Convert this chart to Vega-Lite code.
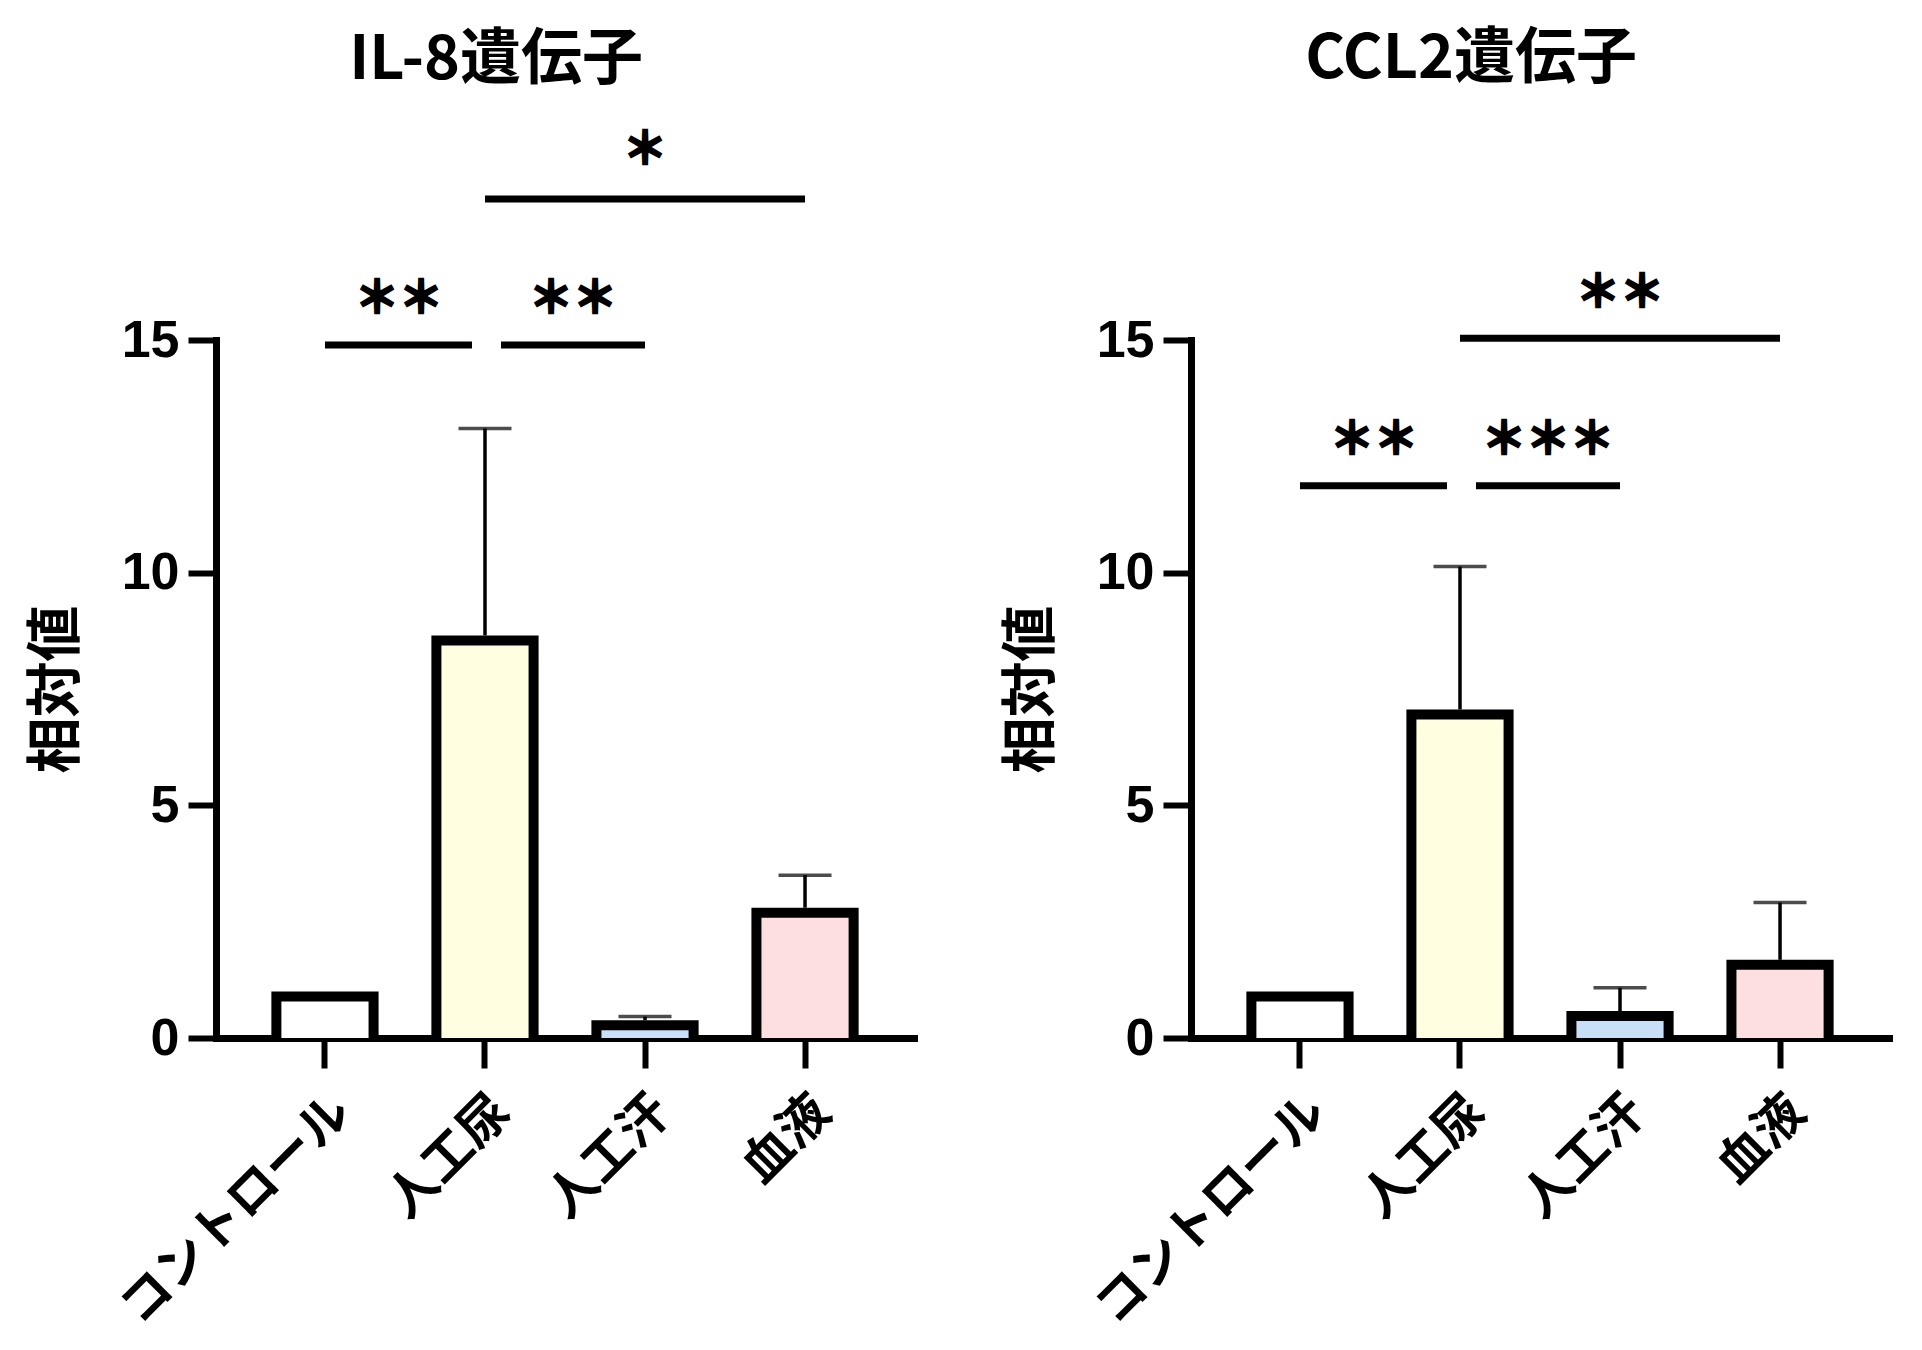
{
  "$schema": "https://vega.github.io/schema/vega-lite/v6.json",
  "padding": {"left": 28, "top": 29, "right": 5, "bottom": 5},
  "background": "white",
  "spacing": 89,
  "hconcat": [
    {
      "title": {"text": "IL-8遺伝子", "dx": 25, "offset": 37},
      "width": 698,
      "height": 698,
      "data": {"values": [
        {"group": "コントロール", "value": 1.0, "upper": null},
        {"group": "人工尿", "value": 8.65, "upper": 13.1},
        {"group": "人工汗", "value": 0.38, "upper": 0.46},
        {"group": "血液", "value": 2.8, "upper": 3.5}
      ]},
      "encoding": {
        "x": {"field": "group", "type": "nominal", "sort": ["コントロール", "人工尿", "人工汗", "血液"],
              "scale": {"paddingInner": 0.33, "paddingOuter": 0.346}}
      },
      "layer": [
        {"mark": {"type": "bar", "color": "black", "width": {"band": 1}},
         "encoding": {"y": {"field": "value", "type": "quantitative", "title": "相対値",
                            "scale": {"domain": [0, 15], "nice": false}, "axis": {"values": [0, 5, 10, 15]}}}},
        {"mark": {"type": "bar", "yOffset": 10, "width": {"band": 0.813}},
         "encoding": {"y": {"field": "value", "type": "quantitative", "scale": {"domain": [0, 15], "nice": false}},
                      "y2": {"datum": 0},
                      "color": {"field": "group", "type": "nominal", "legend": null,
                                "scale": {"domain": ["コントロール", "人工尿", "人工汗", "血液"],
                                          "range": ["#ffffff", "#fffee0", "#c9def7", "#fddfe0"]}}}},
        {"transform": [{"filter": "datum.upper != null"}],
         "mark": {"type": "rule", "color": "black", "strokeWidth": 3.5},
         "encoding": {"y": {"field": "value", "type": "quantitative", "scale": {"domain": [0, 15], "nice": false}}, "y2": {"field": "upper"}}},
        {"transform": [{"filter": "datum.upper != null"}],
         "mark": {"type": "tick", "color": "black", "thickness": 3.5, "size": 53},
         "encoding": {"y": {"field": "upper", "type": "quantitative", "scale": {"domain": [0, 15], "nice": false}}}},
        {"data": {"values": [{"from": "コントロール", "to": "人工尿", "line": 14.89, "mark": 15.86, "label": "＊＊"}]},
         "layer": [
           {"mark": {"type": "rule", "color": "black", "strokeWidth": 7, "x2Offset": -13},
            "encoding": {"x": {"field": "from", "type": "nominal"}, "x2": {"field": "to"},
                         "y": {"field": "line", "type": "quantitative", "scale": {"domain": [0, 15], "nice": false}}}},
           {"mark": {"type": "text", "dx": 74, "fontSize": 44, "font": "Noto Sans CJK JP", "fontWeight": "bold", "baseline": "middle", "stroke": "black", "strokeWidth": 2.5},
            "encoding": {"x": {"field": "from", "type": "nominal"}, "y": {"field": "mark", "type": "quantitative", "scale": {"domain": [0, 15], "nice": false}},
                         "text": {"field": "label"}}}
         ]},
        {"data": {"values": [{"from": "人工尿", "to": "人工汗", "line": 14.89, "mark": 15.86, "label": "＊＊"}]},
         "layer": [
           {"mark": {"type": "rule", "color": "black", "strokeWidth": 7, "xOffset": 16},
            "encoding": {"x": {"field": "from", "type": "nominal"}, "x2": {"field": "to"},
                         "y": {"field": "line", "type": "quantitative", "scale": {"domain": [0, 15], "nice": false}}}},
           {"mark": {"type": "text", "dx": -72, "fontSize": 44, "font": "Noto Sans CJK JP", "fontWeight": "bold", "baseline": "middle", "stroke": "black", "strokeWidth": 2.5},
            "encoding": {"x": {"field": "to", "type": "nominal"}, "y": {"field": "mark", "type": "quantitative", "scale": {"domain": [0, 15], "nice": false}},
                         "text": {"field": "label"}}}
         ]},
        {"data": {"values": [{"from": "人工尿", "to": "血液", "at": "人工汗", "line": 18.03, "mark": 19.06, "label": "＊"}]},
         "layer": [
           {"mark": {"type": "rule", "color": "black", "strokeWidth": 7},
            "encoding": {"x": {"field": "from", "type": "nominal"}, "x2": {"field": "to"},
                         "y": {"field": "line", "type": "quantitative", "scale": {"domain": [0, 15], "nice": false}}}},
           {"mark": {"type": "text", "fontSize": 44, "font": "Noto Sans CJK JP", "fontWeight": "bold", "baseline": "middle", "stroke": "black", "strokeWidth": 2.5},
            "encoding": {"x": {"field": "at", "type": "nominal"}, "y": {"field": "mark", "type": "quantitative", "scale": {"domain": [0, 15], "nice": false}},
                         "text": {"field": "label"}}}
         ]}
      ]
    },
    {
      "title": {"text": "CCL2遺伝子", "dx": 25, "offset": 181},
      "width": 698,
      "height": 698,
      "data": {"values": [
        {"group": "コントロール", "value": 1.0, "upper": null},
        {"group": "人工尿", "value": 7.06, "upper": 10.13},
        {"group": "人工汗", "value": 0.58, "upper": 1.08},
        {"group": "血液", "value": 1.68, "upper": 2.91}
      ]},
      "encoding": {
        "x": {"field": "group", "type": "nominal", "sort": ["コントロール", "人工尿", "人工汗", "血液"],
              "scale": {"paddingInner": 0.33, "paddingOuter": 0.346}}
      },
      "layer": [
        {"mark": {"type": "bar", "color": "black", "width": {"band": 1}},
         "encoding": {"y": {"field": "value", "type": "quantitative", "title": "相対値",
                            "scale": {"domain": [0, 15], "nice": false}, "axis": {"values": [0, 5, 10, 15]}}}},
        {"mark": {"type": "bar", "yOffset": 10, "width": {"band": 0.813}},
         "encoding": {"y": {"field": "value", "type": "quantitative", "scale": {"domain": [0, 15], "nice": false}},
                      "y2": {"datum": 0},
                      "color": {"field": "group", "type": "nominal", "legend": null,
                                "scale": {"domain": ["コントロール", "人工尿", "人工汗", "血液"],
                                          "range": ["#ffffff", "#fffee0", "#c9def7", "#fddfe0"]}}}},
        {"transform": [{"filter": "datum.upper != null"}],
         "mark": {"type": "rule", "color": "black", "strokeWidth": 3.5},
         "encoding": {"y": {"field": "value", "type": "quantitative", "scale": {"domain": [0, 15], "nice": false}}, "y2": {"field": "upper"}}},
        {"transform": [{"filter": "datum.upper != null"}],
         "mark": {"type": "tick", "color": "black", "thickness": 3.5, "size": 53},
         "encoding": {"y": {"field": "upper", "type": "quantitative", "scale": {"domain": [0, 15], "nice": false}}}},
        {"data": {"values": [{"from": "コントロール", "to": "人工尿", "line": 11.87, "mark": 12.84, "label": "＊＊"}]},
         "layer": [
           {"mark": {"type": "rule", "color": "black", "strokeWidth": 7, "x2Offset": -13},
            "encoding": {"x": {"field": "from", "type": "nominal"}, "x2": {"field": "to"},
                         "y": {"field": "line", "type": "quantitative", "scale": {"domain": [0, 15], "nice": false}}}},
           {"mark": {"type": "text", "dx": 74, "fontSize": 44, "font": "Noto Sans CJK JP", "fontWeight": "bold", "baseline": "middle", "stroke": "black", "strokeWidth": 2.5},
            "encoding": {"x": {"field": "from", "type": "nominal"}, "y": {"field": "mark", "type": "quantitative", "scale": {"domain": [0, 15], "nice": false}},
                         "text": {"field": "label"}}}
         ]},
        {"data": {"values": [{"from": "人工尿", "to": "人工汗", "line": 11.87, "mark": 12.84, "label": "＊＊＊"}]},
         "layer": [
           {"mark": {"type": "rule", "color": "black", "strokeWidth": 7, "xOffset": 16},
            "encoding": {"x": {"field": "from", "type": "nominal"}, "x2": {"field": "to"},
                         "y": {"field": "line", "type": "quantitative", "scale": {"domain": [0, 15], "nice": false}}}},
           {"mark": {"type": "text", "dx": -72, "fontSize": 44, "font": "Noto Sans CJK JP", "fontWeight": "bold", "baseline": "middle", "stroke": "black", "strokeWidth": 2.5},
            "encoding": {"x": {"field": "to", "type": "nominal"}, "y": {"field": "mark", "type": "quantitative", "scale": {"domain": [0, 15], "nice": false}},
                         "text": {"field": "label"}}}
         ]},
        {"data": {"values": [{"from": "人工尿", "to": "血液", "at": "人工汗", "line": 15.04, "mark": 15.98, "label": "＊＊"}]},
         "layer": [
           {"mark": {"type": "rule", "color": "black", "strokeWidth": 7},
            "encoding": {"x": {"field": "from", "type": "nominal"}, "x2": {"field": "to"},
                         "y": {"field": "line", "type": "quantitative", "scale": {"domain": [0, 15], "nice": false}}}},
           {"mark": {"type": "text", "fontSize": 44, "font": "Noto Sans CJK JP", "fontWeight": "bold", "baseline": "middle", "stroke": "black", "strokeWidth": 2.5},
            "encoding": {"x": {"field": "at", "type": "nominal"}, "y": {"field": "mark", "type": "quantitative", "scale": {"domain": [0, 15], "nice": false}},
                         "text": {"field": "label"}}}
         ]}
      ]
    }
  ],
  "config": {
    "view": {"stroke": null},
    "title": {"fontSize": 61, "font": "Noto Sans CJK JP", "fontWeight": "bold", "color": "black", "anchor": "middle", "frame": "bounds"},
    "axis": {
      "grid": false,
      "domainColor": "black",
      "domainWidth": 7,
      "domainCap": "square",
      "tickColor": "black",
      "tickWidth": 6,
      "labelColor": "black",
      "titleColor": "black"
    },
    "axisX": {
      "title": null,
      "tickSize": 30,
      "labelAngle": -45,
      "labelFont": "Noto Sans CJK JP",
      "labelFontWeight": "bold",
      "labelFontSize": 50,
      "labelLimit": 500,
      "labelPadding": 18
    },
    "axisY": {
      "tickSize": 28,
      "labelFont": "Liberation Sans",
      "labelFontWeight": "bold",
      "labelFontSize": 52,
      "labelPadding": 9,
      "titleFont": "Noto Sans CJK JP",
      "titleFontWeight": "bold",
      "titleFontSize": 56,
      "titlePadding": 36
    }
  }
}
